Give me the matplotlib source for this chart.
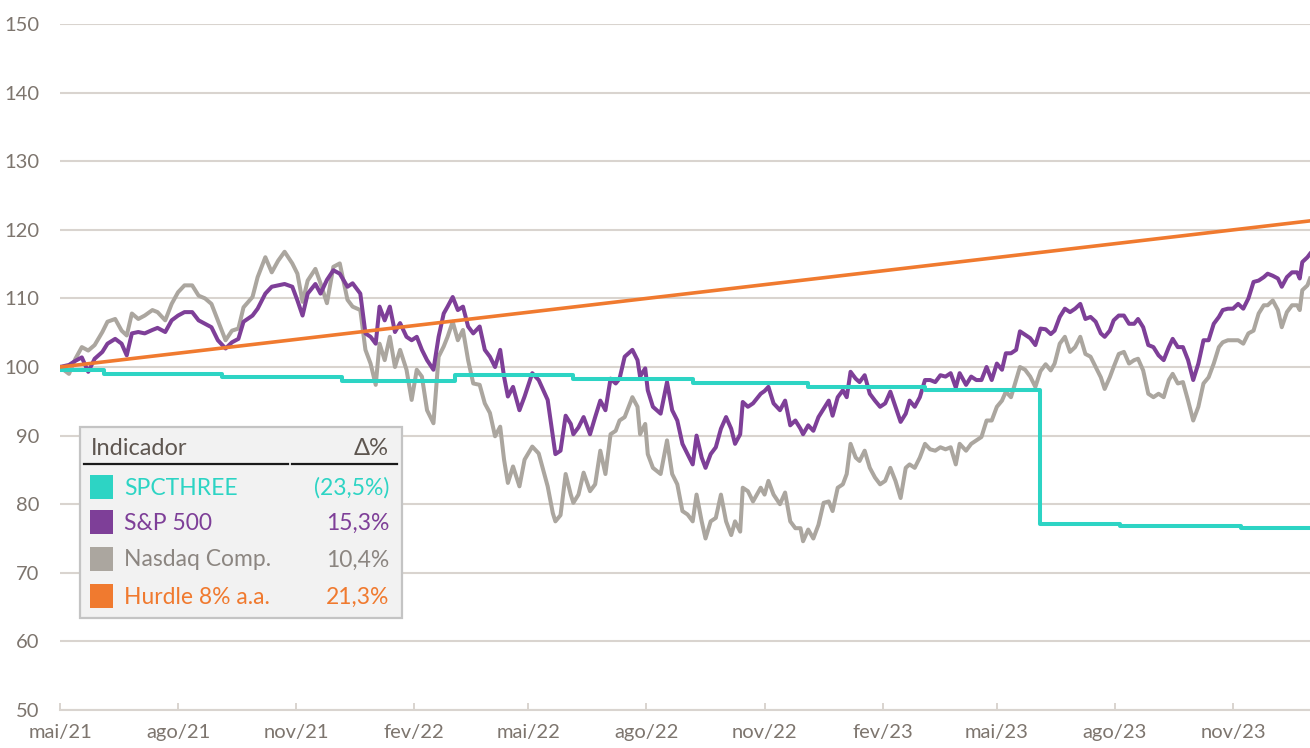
import numpy as np
import pandas as pd
import matplotlib
matplotlib.use('Agg')
import matplotlib.pyplot as plt
from matplotlib.patches import Rectangle
from matplotlib.lines import Line2D
from matplotlib.ticker import FuncFormatter, MultipleLocator
import matplotlib.dates as mdates

plt.rcParams['font.family'] = ['Lato', 'DejaVu Sans']

# Dados (índice base 100, dias desde 01/05/2021)
inicio = pd.Timestamp('2021-05-01')
fim = pd.Timestamp('2023-12-31')

dias = [0, 7, 12, 17, 22, 27, 33, 37, 43, 48, 52, 56, 61, 66, 72, 76, 82, 87, 92, 97,
        103, 108, 113, 118, 123, 129, 134, 139, 143, 150, 154, 160, 165, 170, 175, 181, 185, 189, 193, 199,
        203, 208, 213, 218, 224, 228, 234, 238, 242, 246, 249, 253, 257, 261, 265, 270, 274, 278, 282, 286,
        291, 295, 299, 302, 306, 310, 314, 318, 322, 327, 331, 335, 339, 343, 346, 349, 353, 358, 362, 368,
        373, 380, 384,
        386, 390, 394, 398, 400, 404, 408, 413, 417, 421, 425, 429, 433, 436, 440, 446, 450, 452, 456, 458,
        462, 468, 473, 477, 481, 485, 489, 493, 496, 500, 503, 507, 511, 515, 519, 523, 526, 530, 532, 536,
        540, 546, 549, 552, 556, 561, 565, 569, 573,
        577, 579, 583, 587, 591, 595, 599, 602, 606, 610, 613, 616, 620, 623, 627, 631, 635, 639, 643, 647,
        651, 655, 659, 662, 666, 670, 674, 678, 682, 686, 690, 694, 698, 701, 706, 710, 714, 718, 722, 726,
        730, 734, 737, 741, 745, 748, 752, 756, 760, 764, 768, 772,
        775, 779, 783, 787, 791, 795, 799, 803, 807, 811, 814, 818, 821, 825, 829, 833, 837, 840, 844, 848,
        852, 856, 860, 864, 867, 871, 875, 879, 883, 887, 891, 895, 899, 903, 906, 910, 914, 918, 922, 926,
        930, 934, 938, 941, 945, 949, 952, 956, 960, 964, 966, 968, 972, 974]

sp500 = [100.0, 100.3, 100.9, 101.4, 99.3, 101.2, 102.2, 103.4, 104.1, 103.4, 101.7, 104.9, 105.1, 104.9, 105.4, 105.7, 105.1, 106.8, 107.5, 108.0,
         108.0, 106.8, 106.3, 105.8, 103.9, 102.7, 103.6, 104.1, 106.6, 107.5, 108.5, 110.7, 111.7, 111.9, 112.1, 111.7, 109.7, 107.5, 110.7, 112.1,
         110.7, 112.7, 114.1, 113.6, 111.7, 112.2, 110.7, 104.9, 104.4, 103.4, 108.8, 106.8, 108.8, 105.1, 106.4, 104.4, 103.9, 104.4, 102.5, 101.0,
         99.6, 104.4, 107.8, 108.8, 110.2, 108.3, 108.8, 105.9, 104.9, 105.9, 102.5, 101.5, 100.0, 102.5, 98.6, 95.7, 97.1, 93.7, 95.7, 99.1,
         98.1, 95.2, 89.9,
         87.3, 87.8, 92.9, 91.7, 90.2, 91.2, 92.7, 90.2, 92.7, 95.1, 93.7, 98.3, 97.6, 98.3, 101.5, 102.5, 101.0, 98.6, 99.8, 96.6,
         94.2, 93.2, 97.8, 93.7, 92.2, 88.8, 87.3, 85.8, 90.0, 86.8, 85.3, 87.3, 88.3, 91.0, 92.7, 91.0, 88.8, 90.2, 94.9, 94.2,
         94.7, 96.1, 96.5, 97.1, 94.7, 93.7, 95.1, 91.5, 92.2,
         91.0, 90.2, 91.5, 90.7, 92.7, 93.9, 95.1, 92.9, 95.6, 96.6, 95.6, 99.3, 98.3, 97.8, 98.8, 96.1, 95.1, 94.2, 94.7, 96.4,
         94.2, 92.0, 93.2, 95.1, 94.2, 95.6, 98.1, 98.1, 97.8, 98.8, 98.6, 99.1, 97.0, 99.1, 97.4, 98.6, 98.1, 98.1, 100.0, 98.1,
         100.5, 99.6, 102.0, 102.0, 102.5, 105.2, 104.7, 104.2, 103.2, 105.6, 105.5, 104.8,
         105.3, 107.3, 108.5, 108.0, 108.5, 109.2, 107.0, 107.3, 106.6, 104.9, 104.4, 105.3, 106.8, 107.5, 107.5, 106.3, 106.3, 107.0, 105.8, 103.2,
         102.9, 101.7, 101.0, 102.9, 104.1, 102.9, 102.9, 101.0, 98.1, 100.5, 103.9, 103.9, 106.3, 107.3, 108.3, 108.5, 108.5, 109.2, 108.5, 110.0,
         112.4, 112.6, 113.1, 113.6, 113.3, 112.9, 111.7, 113.1, 113.8, 113.8, 112.9, 115.3, 116.0, 116.5]

nasdaq = [100.0, 99.0, 101.2, 102.9, 102.4, 103.2, 105.1, 106.6, 107.0, 105.3, 104.6, 107.8, 107.0, 107.5, 108.3, 108.0, 106.8, 109.2, 110.9, 111.9,
          111.9, 110.4, 110.0, 109.2, 106.8, 103.9, 105.3, 105.6, 108.7, 110.2, 113.1, 116.0, 113.8, 115.5, 116.8, 115.1, 113.6, 109.5, 112.6, 114.3,
          112.2, 109.3, 114.6, 115.1, 109.8, 108.8, 108.3, 102.5, 100.5, 97.4, 103.4, 101.0, 104.4, 100.0, 102.5, 99.6, 95.2, 99.6, 98.6, 93.7,
          91.8, 101.5, 103.0, 104.4, 106.6, 103.9, 105.4, 101.0, 97.6, 97.4, 94.7, 93.3, 89.9, 91.3, 86.5, 83.1, 85.5, 82.6, 86.5, 88.4,
          87.4, 82.6, 78.7,
          77.5, 78.4, 84.4, 81.4, 80.2, 81.4, 84.6, 81.9, 82.9, 87.8, 84.4, 90.2, 90.7, 92.2, 92.7, 95.6, 94.2, 90.2, 91.7, 87.3,
          85.3, 84.4, 89.3, 84.4, 82.9, 79.0, 78.5, 77.5, 81.4, 77.5, 75.0, 77.5, 78.0, 81.4, 77.5, 75.5, 77.5, 76.0, 82.4, 81.9,
          80.4, 82.4, 81.4, 83.4, 81.4, 80.0, 81.7, 77.5, 76.5,
          76.5, 74.6, 76.3, 75.0, 77.0, 80.2, 80.4, 79.0, 82.4, 82.9, 84.4, 88.8, 86.8, 86.3, 87.8, 85.3, 83.9, 82.9, 83.4, 85.3,
          83.4, 80.9, 85.3, 85.8, 85.3, 86.8, 88.8, 88.0, 87.8, 88.3, 88.0, 88.3, 85.8, 88.8, 87.8, 88.8, 89.3, 89.8, 92.2, 92.2,
          94.2, 95.1, 96.4, 95.6, 98.1, 100.0, 99.6, 98.6, 97.1, 99.4, 100.4, 99.5,
          100.5, 103.4, 104.4, 102.2, 102.9, 104.4, 101.9, 101.5, 100.0, 98.5, 96.8, 98.5, 100.0, 101.9, 102.2, 100.5, 101.0, 101.2, 99.5, 96.1,
          95.6, 96.1, 95.6, 98.1, 99.0, 97.6, 97.8, 95.1, 92.2, 94.2, 97.6, 98.5, 100.5, 102.9, 103.6, 103.9, 103.9, 103.9, 103.4, 104.9,
          105.3, 107.8, 109.0, 109.0, 109.7, 108.3, 105.8, 108.0, 109.0, 109.0, 108.3, 111.2, 111.9, 112.9]

spc_dias = [0, 34, 126, 220, 308, 400, 493, 583, 674, 764, 826, 920, 974]
spc_vals = [99.6, 99.0, 98.6, 97.9, 98.8, 98.2, 97.7, 97.1, 96.6, 77.1, 76.8, 76.5, 76.5]

hurdle_dias = [0, 974]
hurdle_vals = [100.0, 121.3]

nomes = ['SPCTHREE', 'S&P 500', 'Nasdaq Comp.', 'Hurdle 8% a.a.']
variacoes = ['(23,5%)', '15,3%', '10,4%', '21,3%']
cores = ['#2dd4c4', '#7e3f98', '#aba69f', '#f07a2f']
cores_texto = ['#2dd4c4', '#7e3f98', '#8c8681', '#f07a2f']

meses_pt = {2: 'fev', 5: 'mai', 8: 'ago', 11: 'nov'}

cor_grade = '#d9d4cf'
cor_rotulo = '#7d756e'

datas = inicio + pd.to_timedelta(dias, unit='D')
spc_datas = inicio + pd.to_timedelta(spc_dias, unit='D')
hurdle_datas = inicio + pd.to_timedelta(hurdle_dias, unit='D')

W, H = 1310, 748
fig = plt.figure(figsize=(W / 100, H / 100), dpi=100)
ax = fig.add_axes([60 / W, 1 - 710 / H, 1250 / W, 686 / H])

ax.plot(datas, nasdaq, color=cores[2], lw=2.9, zorder=3)
ax.plot(datas, sp500, color=cores[1], lw=2.9, zorder=4)
ax.plot(spc_datas, spc_vals, color=cores[0], lw=2.9, drawstyle='steps-post', zorder=5)
ax.plot(hurdle_datas, hurdle_vals, color=cores[3], lw=2.6, zorder=6)

ax.set_xlim(inicio, fim)
ax.set_ylim(50, 150)
ax.yaxis.set_major_locator(MultipleLocator(10))
ax.grid(axis='y', color=cor_grade, lw=1.5, zorder=0)
ax.set_axisbelow(True)

ax.xaxis.set_major_locator(mdates.MonthLocator(bymonth=[2, 5, 8, 11]))
ax.xaxis.set_major_formatter(FuncFormatter(
    lambda v, p: meses_pt[mdates.num2date(v).month] + mdates.num2date(v).strftime('/%y')))

for s in ['top', 'right', 'left']:
    ax.spines[s].set_visible(False)
ax.spines['bottom'].set_color(cor_grade)
ax.spines['bottom'].set_linewidth(1.5)

ax.tick_params(axis='y', length=0, pad=15, labelsize=14.5, labelcolor=cor_rotulo)
ax.tick_params(axis='x', direction='in', length=5, width=1.4, color=cor_grade,
               pad=10, labelsize=14.5, labelcolor=cor_rotulo)


# Quadro de legenda (coordenadas em pixels da figura)
def fx(px):
    return px / W


def fy(py):
    return 1 - py / H


fig.add_artist(Rectangle((fx(80), fy(618)), (402 - 80) / W, (618 - 427) / H,
                         transform=fig.transFigure, facecolor='#f2f2f2',
                         edgecolor='#c4c4c4', lw=1.6, zorder=10))

fig.text(fx(91), fy(449), 'Indicador', fontsize=17, color='#5e5650',
         ha='left', va='center', zorder=11)
fig.text(fx(389), fy(449), 'Δ%', fontsize=17, color='#5e5650',
         ha='right', va='center', zorder=11)
fig.add_artist(Line2D([fx(84), fx(288)], [fy(463.5), fy(463.5)], transform=fig.transFigure,
                      color='#1a1a1a', lw=1.6, zorder=11))
fig.add_artist(Line2D([fx(292), fx(397)], [fy(463.5), fy(463.5)], transform=fig.transFigure,
                      color='#1a1a1a', lw=1.6, zorder=11))

linhas_y = [487, 522, 559, 596]
for nome, var, cor, cor_t, yy in zip(nomes, variacoes, cores, cores_texto, linhas_y):
    fig.add_artist(Rectangle((fx(90), fy(yy + 12)), 23 / W, 24 / H, transform=fig.transFigure,
                             facecolor=cor, edgecolor='none', zorder=11))
    fig.text(fx(124), fy(yy + 1), nome, fontsize=16.5, color=cor_t,
             ha='left', va='center', zorder=11)
    fig.text(fx(389), fy(yy + 1), var, fontsize=16.5, color=cor_t,
             ha='right', va='center', zorder=11)

fig.savefig('out.png', dpi=100)
